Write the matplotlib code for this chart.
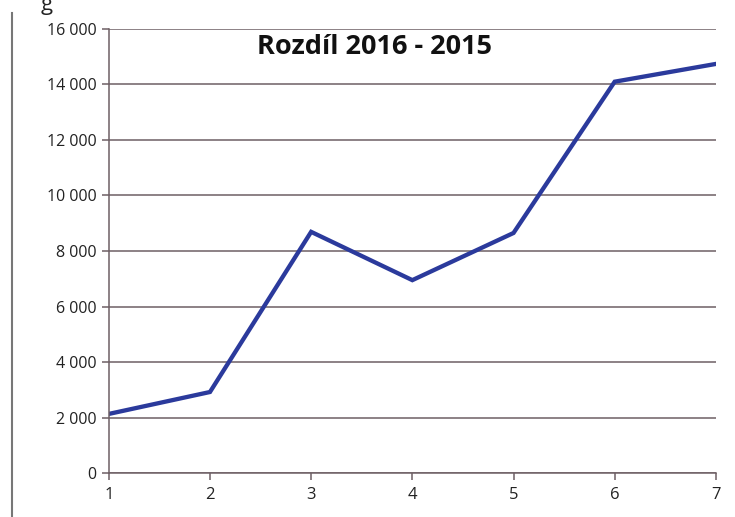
import matplotlib.pyplot as plt
from matplotlib.lines import Line2D
from matplotlib.ticker import FuncFormatter

plt.rcParams['font.family'] = ['Open Sans', 'DejaVu Sans']

x = [1, 2, 3, 4, 5, 6, 7]
rozdil = [2130, 2920, 8690, 6950, 8650, 14100, 14740]
y_ticks = [0, 2000, 4000, 6000, 8000, 10000, 12000, 14000, 16000]

grid_col = '#6e5f64'

fig = plt.figure(figsize=(7.35, 5.17), dpi=100)
ax = fig.add_axes([0.148, 0.085, 0.826, 0.859])

ax.plot(x, rozdil, color='#2b3a9c', linewidth=3.1, solid_joinstyle='miter')

ax.set_xlim(1, 7)
ax.set_ylim(0, 16000)
ax.set_xticks(x)
ax.set_yticks(y_ticks)
ax.yaxis.set_major_formatter(FuncFormatter(lambda v, p: f'{int(v):,}'.replace(',', ' ')))
ax.grid(axis='y', color=grid_col, linewidth=1.1)
ax.set_axisbelow(True)

for s in ['top', 'right']:
    ax.spines[s].set_visible(False)
for s in ['left', 'bottom']:
    ax.spines[s].set_color(grid_col)
    ax.spines[s].set_linewidth(1.1)

ax.tick_params(axis='y', length=5, width=1.1, color=grid_col, labelsize=11.5, labelcolor='#222222', pad=4)
ax.tick_params(axis='x', length=5, width=1.1, color=grid_col, labelsize=12, labelcolor='#222222', pad=5)

ax.text(0.438, 0.959, 'Rozdíl 2016 - 2015', transform=ax.transAxes, ha='center', va='center',
        fontsize=19.5, fontweight='bold', color='#111111')

# page border on the left and the cut-off caption at the top
fig.add_artist(Line2D([0.016, 0.016], [0.0, 0.975], transform=fig.transFigure, color='#777777', linewidth=1.5))
fig.text(0.055, 0.992, 'g', ha='left', va='center', fontsize=16, color='#222222')

fig.savefig('out.png', dpi=100)
